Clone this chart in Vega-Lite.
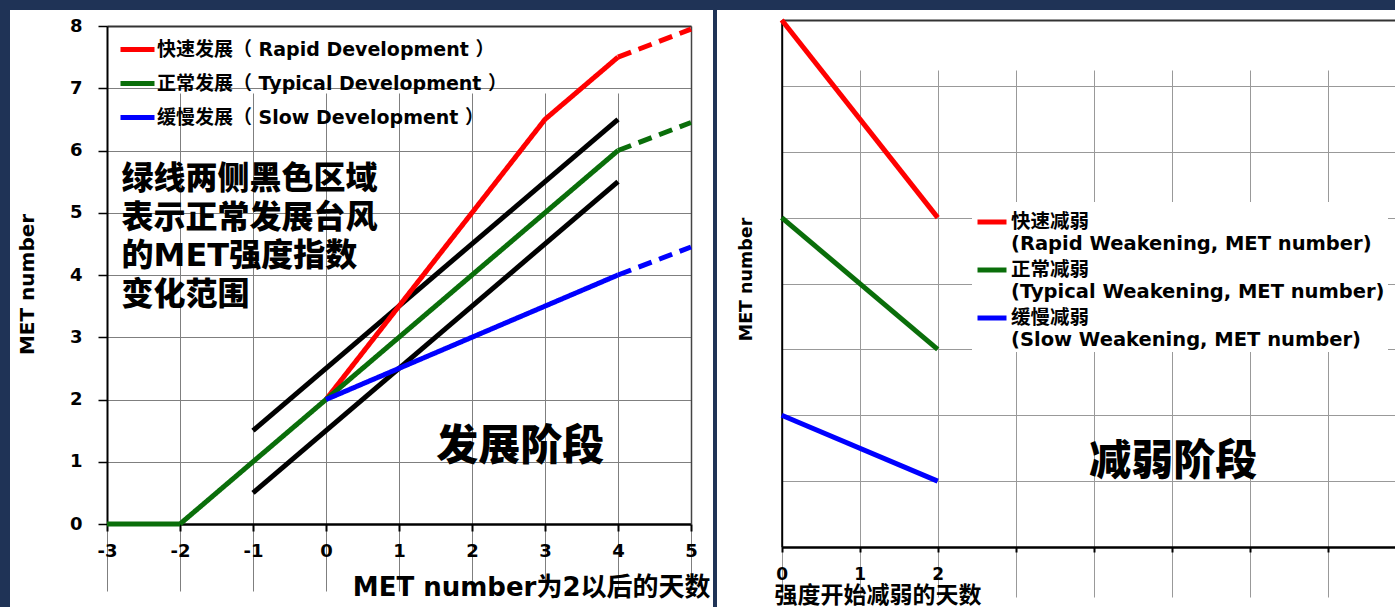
{
  "$schema": "https://vega.github.io/schema/vega-lite/v6.json",
  "background": "#1f3356",
  "padding": {"left": 10, "top": 10, "right": 0, "bottom": 0},
  "spacing": 4,
  "config": {
    "view": {"stroke": null, "fill": "white"},
    "font": "DejaVu Sans, Noto Sans CJK SC, sans-serif",
    "axis": {
      "labelFont": "DejaVu Sans, Noto Sans CJK SC, sans-serif",
      "titleFont": "DejaVu Sans, Noto Sans CJK SC, sans-serif",
      "labelFontWeight": "bold",
      "titleFontWeight": "bold",
      "labelColor": "black",
      "titleColor": "black",
      "domainColor": "black",
      "tickColor": "black",
      "gridColor": "#7f7f7f",
      "gridOpacity": 1,
      "gridWidth": 1,
      "labelFlush": false,
      "labelOverlap": false
    },
    "legend": {
      "labelFont": "DejaVu Sans, Noto Sans CJK SC, sans-serif",
      "labelFontWeight": "bold",
      "labelColor": "black"
    }
  },
  "resolve": {
    "scale": {"x": "independent", "y": "independent", "color": "independent", "strokeDash": "independent"},
    "legend": {"color": "independent"}
  },
  "hconcat": [
    {
      "width": 703,
      "height": 597,
      "resolve": {"axis": {"x": "independent", "y": "independent"}},
      "layer": [
        {
          "data": {"values": [
            {"band": "upper", "day": -1, "met": 1.5},
            {"band": "upper", "day": 4, "met": 6.5},
            {"band": "lower", "day": -1, "met": 0.5},
            {"band": "lower", "day": 4, "met": 5.5}
          ]},
          "mark": {"type": "line", "color": "black", "strokeWidth": 5, "strokeCap": "butt"},
          "encoding": {
            "x": {
              "field": "day", "type": "quantitative",
              "scale": {"domain": [-3, 5], "range": [97, 681], "nice": false, "zero": false},
              "axis": {
                "values": [-3, -2, -1, 0, 1, 2, 3, 4, 5],
                "labelExpr": "datum.value < 0 ? '-' + (-datum.value) : '' + datum.value",
                "offset": -83,
                "tickSize": 7, "tickWidth": 2, "domainWidth": 2.5,
                "labelFontSize": 18, "labelPadding": 20, "labelBaseline": "middle",
                "grid": true,
                "title": "MET number为2以后的天数",
                "titleFontSize": 26, "titleAlign": "right", "titleX": 700, "titleY": 63, "titleBaseline": "middle"
              }
            },
            "y": {
              "field": "met", "type": "quantitative",
              "scale": {"domain": [0, 8], "range": [514, 16], "nice": false, "zero": false},
              "axis": {
                "values": [0, 1, 2, 3, 4, 5, 6, 7, 8],
                "labelExpr": "'' + datum.value",
                "offset": -97,
                "tickSize": 9, "tickWidth": 1.5, "domainWidth": 2,
                "labelFontSize": 18, "labelPadding": 16,
                "grid": true,
                "title": "MET number",
                "titleFontSize": 20, "titleX": -79.5, "titleY": 274, "titleAngle": 270, "titleAlign": "center", "titleBaseline": "middle"
              }
            },
            "detail": {"field": "band"}
          }
        },
        {
          "data": {"values": [
            {"series": "快速发展（ Rapid Development ）", "part": "solid", "day": 0, "met": 2},
            {"series": "快速发展（ Rapid Development ）", "part": "solid", "day": 1, "met": 3.5},
            {"series": "快速发展（ Rapid Development ）", "part": "solid", "day": 2, "met": 5},
            {"series": "快速发展（ Rapid Development ）", "part": "solid", "day": 3, "met": 6.5},
            {"series": "快速发展（ Rapid Development ）", "part": "solid", "day": 4, "met": 7.5},
            {"series": "快速发展（ Rapid Development ）", "part": "dashed", "day": 4, "met": 7.5},
            {"series": "快速发展（ Rapid Development ）", "part": "dashed", "day": 5, "met": 7.95},
            {"series": "正常发展（ Typical Development ）", "part": "solid", "day": -3, "met": 0},
            {"series": "正常发展（ Typical Development ）", "part": "solid", "day": -2, "met": 0},
            {"series": "正常发展（ Typical Development ）", "part": "solid", "day": 4, "met": 6},
            {"series": "正常发展（ Typical Development ）", "part": "dashed", "day": 4, "met": 6},
            {"series": "正常发展（ Typical Development ）", "part": "dashed", "day": 5, "met": 6.45},
            {"series": "缓慢发展（ Slow Development ）", "part": "solid", "day": 0, "met": 2},
            {"series": "缓慢发展（ Slow Development ）", "part": "solid", "day": 4, "met": 4},
            {"series": "缓慢发展（ Slow Development ）", "part": "dashed", "day": 4, "met": 4},
            {"series": "缓慢发展（ Slow Development ）", "part": "dashed", "day": 5, "met": 4.45}
          ]},
          "mark": {"type": "line", "strokeWidth": 5, "strokeCap": "butt", "strokeJoin": "round"},
          "encoding": {
            "x": {"field": "day", "type": "quantitative", "axis": null},
            "y": {"field": "met", "type": "quantitative", "axis": null},
            "color": {
              "field": "series", "type": "nominal",
              "scale": {
                "domain": ["快速发展（ Rapid Development ）", "正常发展（ Typical Development ）", "缓慢发展（ Slow Development ）"],
                "range": ["#ff0000", "#0a6e0a", "#0000ff"]
              },
              "legend": {
                "orient": "none", "legendX": 108, "legendY": 20,
                "title": null, "padding": 0,
                "symbolType": "stroke", "symbolSize": 1156, "symbolStrokeWidth": 5,
                "labelFontSize": 19, "labelLimit": 600, "labelOffset": 0, "rowPadding": 4
              }
            },
            "strokeDash": {
              "field": "part", "type": "nominal",
              "scale": {"domain": ["solid", "dashed"], "range": [[1, 0], [14, 8]]},
              "legend": null
            }
          }
        },
        {
          "data": {"values": [
            {"label": "绿线两侧黑色区域\n表示正常发展台风\n的MET强度指数\n变化范围", "day": -2.8, "met": 5.537}
          ]},
          "mark": {"type": "text", "align": "left", "baseline": "middle", "fontSize": 32, "fontWeight": 900, "lineHeight": 38.5, "lineBreak": "\n", "color": "black", "font": "DejaVu Sans, Noto Sans CJK SC, sans-serif"},
          "encoding": {
            "x": {
              "field": "day", "type": "quantitative",
              "axis": {"orient": "top", "offset": -16, "domainColor": "#333333", "domainWidth": 2, "ticks": false, "labels": false, "grid": false, "title": null}
            },
            "y": {
              "field": "met", "type": "quantitative",
              "axis": {"orient": "right", "offset": -22, "domainColor": "#444444", "domainWidth": 1.5, "ticks": false, "labels": false, "grid": false, "title": null}
            },
            "text": {"field": "label"}
          }
        },
        {
          "data": {"values": [
            {"label": "发展阶段", "day": 2.66, "met": 1.24}
          ]},
          "mark": {"type": "text", "align": "center", "baseline": "middle", "fontSize": 42, "fontWeight": 900, "color": "black", "font": "Noto Sans CJK SC, sans-serif"},
          "encoding": {
            "x": {"field": "day", "type": "quantitative", "axis": null},
            "y": {"field": "met", "type": "quantitative", "axis": null},
            "text": {"field": "label"}
          }
        }
      ]
    },
    {
      "width": 678,
      "height": 597,
      "resolve": {"axis": {"x": "independent", "y": "independent"}},
      "layer": [
        {
          "data": {"values": [
            {"series": "快速减弱|(Rapid Weakening, MET number)", "day": 0, "met": 8},
            {"series": "快速减弱|(Rapid Weakening, MET number)", "day": 2, "met": 5},
            {"series": "正常减弱|(Typical Weakening, MET number)", "day": 0, "met": 5},
            {"series": "正常减弱|(Typical Weakening, MET number)", "day": 2, "met": 3},
            {"series": "缓慢减弱|(Slow Weakening, MET number)", "day": 0, "met": 2},
            {"series": "缓慢减弱|(Slow Weakening, MET number)", "day": 2, "met": 1}
          ]},
          "mark": {"type": "line", "strokeWidth": 5, "strokeCap": "butt"},
          "encoding": {
            "x": {
              "field": "day", "type": "quantitative",
              "scale": {"domain": [0, 7.863], "range": [64.7, 678], "nice": false, "zero": false},
              "axis": {
                "values": [0, 1, 2, 3, 4, 5, 6, 7],
                "labelExpr": "datum.value <= 2 ? '' + datum.value : ''",
                "offset": -60,
                "tickSize": 5, "tickWidth": 2, "domainWidth": 2.5,
                "labelFontSize": 17, "labelPadding": 22, "labelBaseline": "middle",
                "grid": true, "gridColor": "#999999",
                "title": "强度开始减弱的天数",
                "titleFontSize": 23, "titleAlign": "left", "titleX": 57, "titleY": 48, "titleBaseline": "middle"
              }
            },
            "y": {
              "field": "met", "type": "quantitative",
              "scale": {"domain": [0, 8], "range": [537, 10], "nice": false, "zero": false},
              "axis": {
                "values": [0, 1, 2, 3, 4, 5, 6, 7, 8],
                "offset": -64.7,
                "ticks": false, "labels": false, "domainWidth": 2,
                "grid": true, "gridColor": "#999999",
                "title": "MET number",
                "titleFontSize": 17.5, "titleX": -35.2, "titleY": 269, "titleAngle": 270, "titleAlign": "center", "titleBaseline": "middle"
              }
            },
            "color": {
              "field": "series", "type": "nominal",
              "scale": {
                "domain": ["快速减弱|(Rapid Weakening, MET number)", "正常减弱|(Typical Weakening, MET number)", "缓慢减弱|(Slow Weakening, MET number)"],
                "range": ["#ff0000", "#0a6e0a", "#0000ff"]
              },
              "legend": {
                "orient": "none", "legendX": 255, "legendY": 192,
                "title": null, "padding": 3, "fillColor": "white",
                "symbolType": "stroke", "symbolSize": 841, "symbolStrokeWidth": 5,
                "labelFontSize": 19.5, "labelLimit": 600, "labelOffset": 2, "rowPadding": -1.5,
                "labelExpr": "split(datum.label, '|')",
                "encoding": {"labels": {"update": {"lineHeight": {"value": 27.5}, "dy": {"value": 13.75}}}}
              }
            }
          }
        },
        {
          "data": {"values": [
            {"label": "减弱阶段", "day": 5.02, "met": 1.29}
          ]},
          "mark": {"type": "text", "align": "center", "baseline": "middle", "fontSize": 42, "fontWeight": 900, "color": "black", "font": "Noto Sans CJK SC, sans-serif"},
          "encoding": {
            "x": {
              "field": "day", "type": "quantitative",
              "axis": {"orient": "top", "offset": -10, "domainColor": "#333333", "domainWidth": 2, "ticks": false, "labels": false, "grid": false, "title": null}
            },
            "y": {"field": "met", "type": "quantitative", "axis": null},
            "text": {"field": "label"}
          }
        }
      ]
    }
  ]
}
